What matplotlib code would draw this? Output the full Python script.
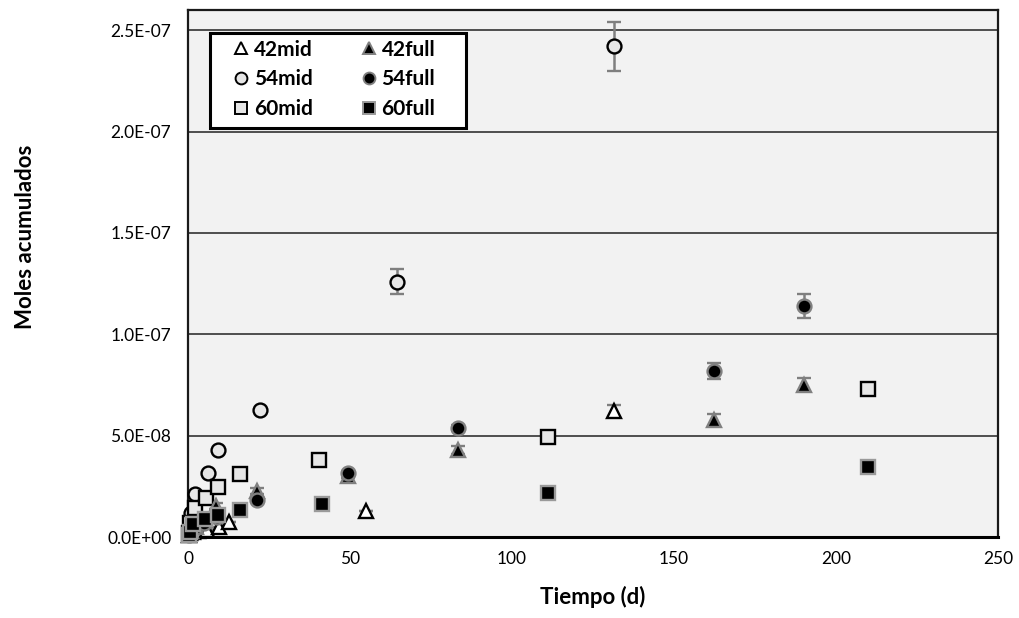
import matplotlib
matplotlib.use("Agg")
import matplotlib.pyplot as plt
from matplotlib.ticker import FuncFormatter
from matplotlib.lines import Line2D
from matplotlib.patches import Rectangle

plt.rcParams['font.family'] = ['Lato', 'DejaVu Sans']

# ---- data ----
t_42mid = [0.2, 0.6, 1.5, 3, 6, 9.5, 12.5, 55, 131.5]
y_42mid = [1e-9, 2e-9, 2.5e-9, 3e-9, 3.5e-9, 5e-9, 7.6e-9, 1.28e-8, 6.2e-8]
e_42mid = [0, 0, 0, 0, 0, 0, 0, 0, 3e-9]

t_54mid = [0.3, 0.8, 2.2, 6.3, 9.2, 22.2, 64.4, 131.5]
y_54mid = [4e-9, 1.2e-8, 2.1e-8, 3.15e-8, 4.3e-8, 6.25e-8, 1.26e-7, 2.42e-7]
e_54mid = [0, 0, 0, 0, 0, 0, 6.2e-9, 1.2e-8]

t_60mid = [0.2, 0.6, 2.2, 5.6, 9.4, 16, 40.4, 111.2, 210]
y_60mid = [2e-9, 7e-9, 1.42e-8, 1.9e-8, 2.49e-8, 3.1e-8, 3.8e-8, 4.93e-8, 7.28e-8]
e_60mid = [0, 0, 0, 0, 0, 0, 0, 0, 0]

t_42full = [0.3, 1, 2.5, 5, 8.6, 21.2, 49.3, 83.4, 162.3, 190.2]
y_42full = [1e-9, 3e-9, 5e-9, 8e-9, 1.55e-8, 2.25e-8, 3.0e-8, 4.3e-8, 5.78e-8, 7.5e-8]
e_42full = [0, 0, 0, 0, 1.5e-9, 1.5e-9, 1e-9, 2e-9, 2.8e-9, 3.2e-9]

t_54full = [0.3, 1, 2.5, 5, 9, 21.2, 49.3, 83.4, 162.3, 190.2]
y_54full = [1e-9, 3e-9, 5e-9, 7e-9, 1e-8, 1.85e-8, 3.18e-8, 5.4e-8, 8.2e-8, 1.14e-7]
e_54full = [0, 0, 0, 0, 0, 1e-9, 1e-9, 1.5e-9, 4e-9, 5.8e-9]

t_60full = [0.2, 0.6, 1.6, 5.2, 9.2, 16, 41.3, 111.2, 210]
y_60full = [1e-9, 2.5e-9, 6.4e-9, 8.7e-9, 1.09e-8, 1.33e-8, 1.62e-8, 2.19e-8, 3.44e-8]
e_60full = [0, 0, 0, 0, 0, 0, 0, 0, 0]

x_ticks = [0, 50, 100, 150, 200, 250]
y_ticks = [0, 5e-8, 1e-7, 1.5e-7, 2e-7, 2.5e-7]

# ---- figure ----
fig = plt.figure(figsize=(10.19, 6.18), dpi=100)
ax = fig.add_axes([188/1019, (618-537)/618, (998-188)/1019, (537-10)/618])
ax.set_facecolor('#f2f2f2')
ax.set_xlim(0, 250)
ax.set_ylim(0, 2.6e-7)
ax.set_xticks(x_ticks)
ax.set_yticks(y_ticks)
ax.yaxis.set_major_formatter(FuncFormatter(lambda v, p: "%.1E" % v))
ax.tick_params(length=0, labelsize=12.5, pad=12)
ax.tick_params(axis='x', pad=10)
ax.grid(axis='y', color='#333333', linewidth=1.2)
ax.set_axisbelow(True)
for s in ax.spines.values():
    s.set_color('#1a1a1a')
    s.set_linewidth(1.6)
ax.spines['bottom'].set_linewidth(2.2)
ax.spines['bottom'].set_color('black')

ms = 10
err_kw = dict(ecolor='#7f7f7f', elinewidth=1.8, capsize=5, capthick=1.8, linestyle='none', clip_on=False)

series = [
    ('42mid', t_42mid, y_42mid, e_42mid, '^', 'white', 'black'),
    ('54mid', t_54mid, y_54mid, e_54mid, 'o', '#e6e6e6', 'black'),
    ('60mid', t_60mid, y_60mid, e_60mid, 's', '#e6e6e6', 'black'),
    ('42full', t_42full, y_42full, e_42full, '^', 'black', '#808080'),
    ('54full', t_54full, y_54full, e_54full, 'o', 'black', '#808080'),
    ('60full', t_60full, y_60full, e_60full, 's', 'black', '#9a9a9a'),
]
handles = []
for name, t, y, e, m, fc, ec in series:
    size = ms if m != 's' else ms - 0.5
    h = ax.errorbar(t, y, yerr=e, marker=m, markersize=size,
                    markerfacecolor=fc, markeredgecolor=ec, markeredgewidth=1.7,
                    zorder=3, **err_kw)
    h.lines[0].set_clip_on(False)
    handles.append(Line2D([], [], linestyle='none', marker=m, markersize=size * 0.85,
                          markerfacecolor=fc, markeredgecolor=ec, markeredgewidth=1.4,
                          label=name))

# legend frame drawn as a rectangle, legend content without frame
def px_to_ax(px, py):
    return (px - 188) / 810, (537 - py) / 527

fx0, fy1 = px_to_ax(210, 33)
fx1, fy0 = px_to_ax(466, 128)
ax.add_patch(Rectangle((fx0, fy0), fx1 - fx0, fy1 - fy0, transform=ax.transAxes,
                       facecolor='white', edgecolor='black', linewidth=2.2, zorder=4))

lx, ly = px_to_ax(231, 39.5)
leg = ax.legend(handles=handles, ncol=2, loc='upper left', bbox_to_anchor=(lx, ly),
                borderaxespad=0, frameon=False, borderpad=0,
                prop={'weight': 'bold', 'size': 15}, handlelength=1.0, handletextpad=0.1,
                columnspacing=2.2, labelspacing=0.47)
leg.set_zorder(5)

ax.set_xlabel('Tiempo (d)', fontsize=16, fontweight='bold')
ax.xaxis.set_label_coords(0.5, -0.092)
ax.set_ylabel('Moles acumulados', fontsize=16, fontweight='bold')
ax.yaxis.set_label_coords(-0.188, 0.569)

fig.savefig('out.png', dpi=100, facecolor='white')
